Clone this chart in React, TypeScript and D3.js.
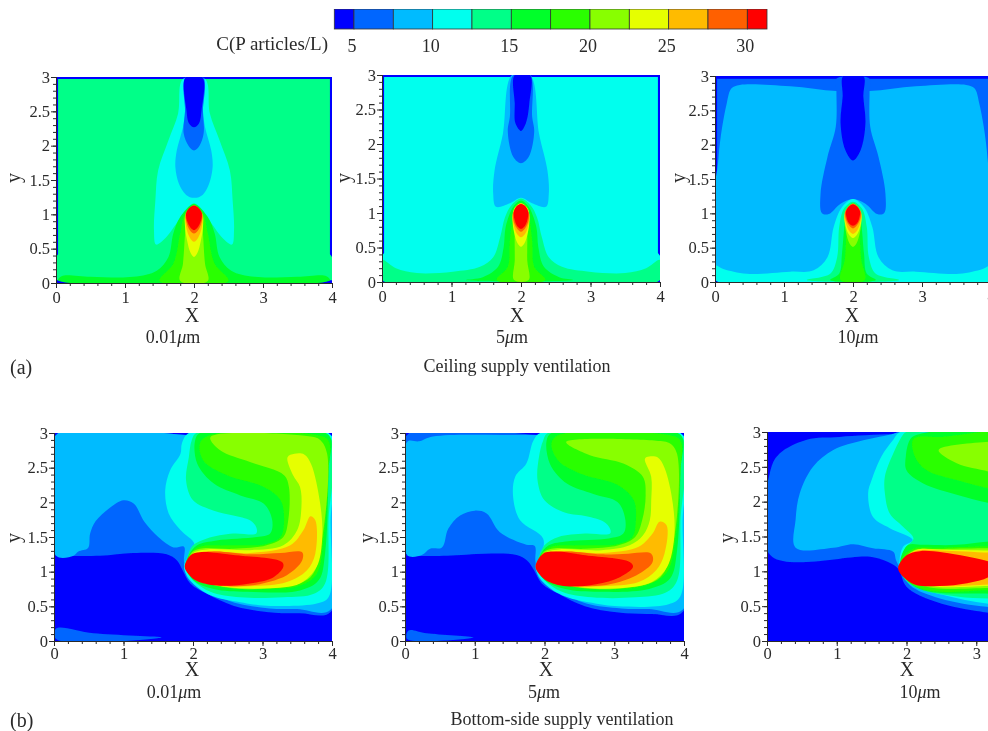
import React, { useEffect, useRef } from 'react';
import * as d3 from 'd3';

type Pt = [number, number];
type Layer = [number, Pt[], boolean?];

// legend
const legendEdges = [3.75, 5, 7.5, 10, 12.5, 15, 17.5, 20, 22.5, 25, 27.5, 30, 31.25];
const legendTicks = [5, 10, 15, 20, 25, 30];
const bandColors = ['#0000ff', '#0066ff', '#00bbff', '#00ffee', '#00ff88', '#00ff2a', '#2aff00', '#88ff00', '#e6ff00', '#ffbb00', '#ff6000', '#ff0000'];

const fullBox: Pt[] = [[0, 0], [4, 0], [4, 3], [0, 3]];

// (a) ceiling supply, 0.01um
const a1Field: Pt[] = [[.03, 2.97], [3.97, 2.97], [3.97, .42], [4, .38], [4, .04], [0, .04], [0, .38], [.03, .42]];
const a1Cyan: Pt[] = [[1.84, 2.97], [1.77, 2.47], [1.63, 2.08], [1.48, 1.64], [1.44, 1.2], [1.42, .77], [1.45, .56], [1.6, .67], [1.75, .87], [1.87, 1.01], [2, 1.16], [2.13, 1.01], [2.25, .87], [2.4, .67], [2.55, .56], [2.58, .77], [2.56, 1.2], [2.52, 1.64], [2.37, 2.08], [2.23, 2.47], [2.16, 2.97]];
const a1Sky: Pt[] = [[1.87, 2.97], [1.87, 2.5], [1.84, 2.27], [1.75, 1.93], [1.73, 1.69], [1.78, 1.45], [1.87, 1.3], [1.94, 1.25], [2.07, 1.25], [2.14, 1.3], [2.22, 1.45], [2.27, 1.69], [2.25, 1.93], [2.16, 2.27], [2.13, 2.5], [2.13, 2.97]];
const a1Mid: Pt[] = [[1.88, 3], [1.87, 2.5], [1.85, 2.18], [1.92, 2], [2, 1.93], [2.08, 2], [2.14, 2.18], [2.13, 2.5], [2.13, 3]];
const a1Core: Pt[] = [[1.88, 3], [1.89, 2.52], [1.93, 2.32], [2, 2.27], [2.07, 2.32], [2.11, 2.52], [2.12, 3]];
const a1P5: Pt[] = [[.03, .04], [.08, .1], [.5, .09], [1.12, .09], [1.46, .18], [1.63, .38], [1.7, .72], [1.8, .96], [2, 1.15], [2.2, .96], [2.3, .72], [2.37, .38], [2.54, .18], [2.88, .09], [3.5, .09], [3.92, .1], [3.97, .04]];
const a1P6: Pt[] = [[1.5, .03], [1.7, .28], [1.8, .72], [1.87, 1.01], [2, 1.11], [2.13, 1.01], [2.2, .72], [2.3, .28], [2.5, .03]];
const a1P7: Pt[] = [[1.8, .03], [1.84, .28], [1.87, .72], [1.89, 1.01], [2, 1.13], [2.11, 1.01], [2.13, .72], [2.16, .28], [2.2, .03]];
const a1P8: Pt[] = [[2, .38], [1.95, .44], [1.9, .62], [1.87, .82], [1.88, 1.01], [2, 1.12], [2.12, 1.01], [2.13, .82], [2.1, .62], [2.05, .44]];
const a1P9: Pt[] = [[2, .6], [1.94, .66], [1.89, .8], [1.88, .96], [2, 1.13], [2.12, .96], [2.11, .8], [2.06, .66]];
const a1P10: Pt[] = [[2, .72], [1.94, .77], [1.89, .89], [1.88, 1.01], [2, 1.13], [2.12, 1.01], [2.11, .89], [2.06, .77]];
const a1P11: Pt[] = [[2, .77], [1.94, .82], [1.89, .94], [1.89, 1.03], [1.94, 1.1], [2, 1.13], [2.06, 1.1], [2.11, 1.03], [2.11, .94], [2.06, .82]];

// (a) ceiling supply, 5um
const a2Field: Pt[] = [[.03, 2.97], [3.97, 2.97], [3.97, .42], [4, .38], [4, .03], [0, .03], [0, .38], [.03, .42]];
const a2Sky: Pt[] = [[1.87, 3], [1.74, 2.15], [1.62, 1.62], [1.6, 1.28], [1.64, 1.09], [1.84, 1.14], [2, 1.22], [2.16, 1.14], [2.36, 1.09], [2.4, 1.28], [2.38, 1.62], [2.26, 2.15], [2.13, 3]];
const a2Mid: Pt[] = [[1.89, 3], [1.84, 2.4], [1.81, 2.18], [1.89, 1.81], [2, 1.72], [2.11, 1.81], [2.19, 2.18], [2.16, 2.4], [2.13, 3]];
const a2Core: Pt[] = [[1.91, 3], [1.91, 2.59], [1.92, 2.3], [2, 2.19], [2.07, 2.3], [2.12, 2.59], [2.13, 3]];
const a2P4: Pt[] = [[0, .32], [.2, .2], [.5, .13], [1.02, .15], [1.41, .22], [1.6, .36], [1.7, .65], [1.77, .94], [1.86, 1.11], [2, 1.21], [2.14, 1.11], [2.23, .94], [2.3, .65], [2.4, .36], [2.59, .22], [2.98, .15], [3.5, .13], [3.8, .2], [4, .32], [4, .03], [0, .03]];
const a2P5: Pt[] = [[1.21, .03], [1.45, .07], [1.67, .22], [1.75, .5], [1.78, .8], [1.89, 1.09], [2, 1.18], [2.11, 1.09], [2.22, .8], [2.25, .5], [2.33, .22], [2.55, .07], [2.75, .03]];
const a2P6: Pt[] = [[1.65, .03], [1.81, .22], [1.84, .6], [1.89, .94], [2, 1.14], [2.11, .94], [2.16, .6], [2.19, .22], [2.35, .03]];
const a2P7: Pt[] = [[1.9, .03], [1.91, .31], [1.91, .7], [1.93, .99], [2, 1.13], [2.07, .99], [2.09, .7], [2.09, .31], [2.11, .03]];
const a2P8: Pt[] = [[2, .51], [1.95, .56], [1.9, .72], [1.88, .9], [1.9, 1.06], [2, 1.14], [2.1, 1.06], [2.12, .9], [2.1, .72], [2.05, .56]];
const a2P9: Pt[] = [[2, .65], [1.94, .7], [1.89, .84], [1.88, .98], [2, 1.14], [2.12, .98], [2.11, .84], [2.06, .7]];
const a2P10: Pt[] = [[2, .73], [1.94, .78], [1.89, .9], [1.89, 1.01], [2, 1.13], [2.11, 1.01], [2.11, .9], [2.06, .78]];
const a2P11: Pt[] = [[2, .77], [1.94, .82], [1.9, .94], [1.9, 1.03], [1.94, 1.1], [2, 1.13], [2.06, 1.1], [2.1, 1.03], [2.1, .94], [2.06, .82]];

// (a) ceiling supply, 10um
const a3Field: Pt[] = [[.03, 2.96], [3.97, 2.96], [3.97, .03], [.03, .03]];
const a3Sky: Pt[] = [[.05, .1], [.05, 1.8], [.17, 2.6], [.24, 2.82], [.36, 2.87], [1.09, 2.85], [1.76, 2.78], [2.24, 2.78], [2.91, 2.85], [3.64, 2.87], [3.76, 2.82], [3.83, 2.6], [3.95, 1.8], [3.95, .1]];
const a3Mid: Pt[] = [[1.76, 2.96], [1.76, 2.78], [1.75, 2.26], [1.63, 1.82], [1.53, 1.29], [1.55, 1], [1.65, .99], [1.82, 1.14], [2, 1.21], [2.18, 1.14], [2.35, .99], [2.45, 1], [2.47, 1.29], [2.37, 1.82], [2.25, 2.26], [2.24, 2.78], [2.24, 2.96]];
const a3Core: Pt[] = [[1.86, 3], [1.85, 2.7], [1.82, 2.31], [1.89, 1.92], [2, 1.77], [2.11, 1.92], [2.18, 2.31], [2.15, 2.7], [2.15, 3]];
const a3P3: Pt[] = [[0, .24], [.12, .19], [.46, .12], [1.09, .15], [1.43, .17], [1.63, .36], [1.72, .8], [1.84, 1.09], [2, 1.21], [2.16, 1.09], [2.28, .8], [2.37, .36], [2.57, .17], [2.91, .15], [3.54, .12], [3.88, .19], [4, .24], [4, .03], [0, .03]];
const a3P4: Pt[] = [[1.33, .03], [1.67, .12], [1.77, .36], [1.8, .8], [1.87, 1.07], [2, 1.17], [2.13, 1.07], [2.2, .8], [2.23, .36], [2.33, .12], [2.67, .03]];
const a3P5: Pt[] = [[1.67, .03], [1.8, .12], [1.84, .41], [1.88, .85], [1.92, 1.07], [2, 1.15], [2.08, 1.07], [2.12, .85], [2.16, .41], [2.2, .12], [2.33, .03]];
const a3P6: Pt[] = [[1.82, .03], [1.88, .32], [1.9, .7], [1.89, 1], [2, 1.14], [2.11, 1], [2.1, .7], [2.12, .32], [2.17, .03]];
const a3P7: Pt[] = [[2, .51], [1.95, .56], [1.9, .72], [1.88, .9], [1.91, 1.07], [2, 1.14], [2.09, 1.07], [2.12, .9], [2.1, .72], [2.05, .56]];
const a3P8: Pt[] = [[2, .64], [1.94, .69], [1.89, .83], [1.88, .98], [2, 1.14], [2.12, .98], [2.11, .83], [2.06, .69]];
const a3P9: Pt[] = [[2, .7], [1.94, .75], [1.89, .88], [1.88, 1.01], [2, 1.14], [2.12, 1.01], [2.11, .88], [2.06, .75]];
const a3P10: Pt[] = [[2, .78], [1.94, .83], [1.89, .94], [1.89, 1.03], [2, 1.14], [2.11, 1.03], [2.11, .94], [2.06, .83]];
const a3P11: Pt[] = [[2, .82], [1.94, .86], [1.9, .97], [1.9, 1.03], [1.94, 1.1], [2, 1.13], [2.06, 1.1], [2.1, 1.03], [2.1, .97], [2.06, .86]];

// (b) bottom-side supply, 0.01um
const b1Mid: Pt[] = [[0, 1.23], [.66, 1.23], [1.14, 1.27], [1.62, 1.25], [1.77, 1.16], [1.85, 1.02], [1.96, .83], [2.2, .68], [2.58, .51], [3.06, .42], [3.54, .4], [3.98, .42], [3.98, 2.97], [2, 2.97], [.03, 2.97], [.03, 1.23]];
const b1Sky: Pt[] = [[.03, 1.23], [.28, 1.23], [.35, 1.29], [.49, 1.34], [.52, 1.55], [.6, 1.73], [.8, 1.92], [1, 2.03], [1.15, 1.98], [1.3, 1.72], [1.5, 1.5], [1.72, 1.35], [1.87, 1.36], [1.87, 1.15], [1.93, .9], [2.2, .72], [2.6, .55], [3.1, .47], [3.5, .46], [3.98, .45], [3.98, 2.97], [2, 2.97], [.03, 2.97]];
const b1Sliver: Pt[] = [[.03, .18], [.57, .11], [1.55, .05], [.03, .03]];
const b1Cyan: Pt[] = [[1.94, 3], [1.84, 2.85], [1.82, 2.7], [1.67, 2.46], [1.6, 2.17], [1.65, 1.84], [1.82, 1.6], [2.02, 1.4], [1.96, 1.26], [1.87, 1.07], [1.98, .85], [2.25, .66], [2.68, .56], [3.06, .51], [3.78, .54], [3.95, .63], [3.98, 1.74], [3.98, 2.97], [2.5, 2.97]];
const b1P4: Pt[] = [[2.05, 3], [1.98, 2.89], [1.94, 2.65], [1.9, 2.32], [2, 2.03], [2.3, 1.88], [2.58, 1.81], [2.82, 1.74], [2.91, 1.64], [2.91, 1.55], [2.58, 1.55], [2.2, 1.48], [2, 1.38], [1.92, 1.21], [1.89, 1.07], [2, .88], [2.25, .71], [2.68, .63], [3.3, .63], [3.74, .68], [3.9, .83], [3.95, 1.74], [3.95, 2.97], [3, 2.97]];
const b1P5: Pt[] = [[2.1, 3], [2.03, 2.89], [2.06, 2.56], [2.3, 2.27], [2.68, 2.1], [3.02, 1.98], [3.14, 1.74], [3.11, 1.55], [2.92, 1.5], [2.34, 1.45], [2.06, 1.38], [1.94, 1.24], [1.9, 1.07], [2, .88], [2.3, .75], [2.78, .71], [3.54, .73], [3.81, .88], [3.9, 1.26], [3.95, 2.46], [3.95, 2.97], [3, 2.97]];
const b1P6: Pt[] = [[2.25, 2.97], [2.1, 2.85], [2.15, 2.6], [2.49, 2.39], [3.02, 2.22], [3.26, 2.03], [3.31, 1.74], [3.26, 1.5], [3.06, 1.4], [2.49, 1.38], [2.1, 1.36], [1.96, 1.26], [1.92, 1.07], [2.06, .9], [2.39, .78], [3.06, .75], [3.54, .8], [3.78, .97], [3.88, 1.5], [3.95, 2.46], [3.95, 2.89], [3.78, 2.97]];
const b1P7: Pt[] = [[2.25, 2.94], [2.39, 2.75], [2.82, 2.58], [3.31, 2.39], [3.38, 2.22], [3.37, 1.74], [3.3, 1.5], [3.06, 1.38], [2.58, 1.33], [2.1, 1.33], [1.97, 1.26], [1.93, 1.07], [2.1, .88], [2.58, .76], [3.2, .77], [3.69, .92], [3.86, 1.5], [3.93, 2.7], [3.83, 2.9], [3.69, 2.95]];
const b1P8: Pt[] = [[3.36, 2.65], [3.46, 2.7], [3.6, 2.69], [3.7, 2.55], [3.83, 1.98], [3.86, 1.5], [3.78, 1.07], [3.54, .83], [3.06, .76], [2.49, .78], [2.1, .88], [1.95, 1.04], [2, 1.26], [2.2, 1.32], [2.82, 1.31], [3.3, 1.38], [3.5, 1.6], [3.56, 1.93], [3.54, 2.22], [3.44, 2.39]];
const b1P9: Pt[] = [[3.69, 1.8], [3.76, 1.74], [3.76, 1.26], [3.64, 1.02], [3.35, .85], [2.82, .79], [2.3, .81], [2, .95], [1.94, 1.04], [2, 1.21], [2.15, 1.29], [2.82, 1.27], [3.4, 1.38], [3.59, 1.6]];
const b1P10: Pt[] = [[3.57, 1.28], [3.57, 1.16], [3.35, .95], [2.82, .8], [2.3, .82], [2.03, .92], [1.94, 1.04], [2.03, 1.24], [2.3, 1.29], [2.82, 1.25], [3.26, 1.27]];
const b1P11: Pt[] = [[1.88, 1.07], [1.97, 1.24], [2.1, 1.28], [2.58, 1.24], [3.28, 1.14], [3.3, 1.07], [3.16, .92], [2.82, .83], [2.34, .8], [2.05, .87], [1.94, .96]];

// (b) bottom-side supply, 5um
const b2Mid: Pt[] = [[0, 1.23], [.6, 1.23], [1.14, 1.26], [1.6, 1.24], [1.75, 1.16], [1.85, 1.02], [1.96, .83], [2.2, .68], [2.58, .5], [3.06, .41], [3.54, .39], [3.98, .42], [3.98, 2.97], [2, 2.97], [.03, 2.97], [.03, 1.23]];
const b2Sky: Pt[] = [[.03, 1.24], [.24, 1.24], [.36, 1.33], [.53, 1.35], [.62, 1.62], [.79, 1.81], [1, 1.88], [1.17, 1.84], [1.36, 1.57], [1.74, 1.39], [1.86, 1.37], [1.87, 1.15], [1.93, .9], [2.2, .72], [2.6, .54], [3.1, .47], [3.5, .46], [3.98, .45], [3.98, 2.97], [1.9, 2.97], [.4, 2.95], [.2, 2.88], [.03, 2.87]];
const b2Sliver: Pt[] = [[.05, .15], [.31, .11], [.98, .05], [.03, .03]];
const b2Cyan: Pt[] = [[1.94, 3], [1.84, 2.89], [1.74, 2.56], [1.58, 2.37], [1.55, 2.08], [1.65, 1.74], [1.98, 1.48], [1.96, 1.26], [1.87, 1.07], [1.98, .85], [2.25, .66], [2.68, .55], [3.06, .5], [3.78, .53], [3.95, .65], [3.98, 1.74], [3.98, 2.97], [2.5, 2.97]];
const b2P4: Pt[] = [[2.05, 3], [1.98, 2.89], [1.92, 2.65], [1.9, 2.32], [2, 2.03], [2.3, 1.85], [2.6, 1.8], [2.85, 1.72], [2.94, 1.62], [2.94, 1.55], [2.58, 1.55], [2.2, 1.5], [2, 1.38], [1.92, 1.21], [1.89, 1.07], [2, .88], [2.25, .71], [2.68, .63], [3.3, .63], [3.74, .7], [3.9, .87], [3.95, 1.74], [3.95, 2.97], [3, 2.97]];
const b2P5: Pt[] = [[2.1, 3], [2.03, 2.89], [2.08, 2.55], [2.32, 2.27], [2.7, 2.12], [3.05, 2], [3.16, 1.74], [3.13, 1.55], [2.92, 1.48], [2.34, 1.44], [2.06, 1.38], [1.94, 1.24], [1.9, 1.07], [2, .88], [2.3, .75], [2.78, .71], [3.5, .75], [3.8, .9], [3.9, 1.3], [3.95, 2.46], [3.95, 2.97], [3, 2.97]];
const b2P6: Pt[] = [[2.2, 2.97], [2.1, 2.85], [2.2, 2.6], [2.55, 2.4], [3.05, 2.25], [3.28, 2.03], [3.31, 1.74], [3.26, 1.5], [3.06, 1.4], [2.49, 1.38], [2.1, 1.36], [1.96, 1.26], [1.92, 1.07], [2.06, .9], [2.39, .78], [3.06, .75], [3.5, .82], [3.76, 1], [3.88, 1.5], [3.95, 2.46], [3.95, 2.89], [3.78, 2.97]];
const b2P7: Pt[] = [[2.31, 2.87], [2.65, 2.68], [3.13, 2.56], [3.41, 2.37], [3.45, 2.1], [3.4, 1.74], [3.3, 1.5], [3.06, 1.38], [2.58, 1.33], [2.1, 1.33], [1.97, 1.26], [1.93, 1.07], [2.1, .88], [2.58, .76], [3.2, .77], [3.66, .92], [3.86, 1.5], [3.9, 2.7], [3.8, 2.85], [3.6, 2.89]];
const b2P8: Pt[] = [[3.44, 2.63], [3.5, 2.66], [3.62, 2.65], [3.72, 2.5], [3.84, 1.98], [3.86, 1.5], [3.76, 1.07], [3.54, .85], [3.06, .76], [2.49, .78], [2.1, .88], [1.95, 1.04], [2, 1.26], [2.2, 1.32], [2.82, 1.31], [3.22, 1.38], [3.41, 1.52], [3.51, 1.74], [3.53, 2.03], [3.53, 2.37]];
const b2P9: Pt[] = [[3.65, 1.72], [3.75, 1.67], [3.72, 1.26], [3.6, 1.02], [3.35, .85], [2.82, .79], [2.3, .81], [2, .95], [1.94, 1.04], [2, 1.21], [2.15, 1.29], [2.82, 1.27], [3.35, 1.36], [3.55, 1.55]];
const b2P10: Pt[] = [[3.53, 1.26], [3.55, 1.14], [3.32, .95], [2.82, .8], [2.3, .82], [2.03, .92], [1.94, 1.04], [2.03, 1.24], [2.3, 1.29], [2.82, 1.25], [3.2, 1.26]];
const b2P11: Pt[] = [[1.87, 1.07], [1.98, 1.26], [2.17, 1.29], [2.55, 1.24], [3.22, 1.14], [3.27, 1.07], [3.08, .92], [2.74, .82], [2.31, .79], [2.03, .87], [1.93, .96]];

// (b) bottom-side supply, 10um (cut off by the page at the right)
const b3Mid: Pt[] = [[.05, 1.23], [.05, 2.45], [.18, 2.69], [.57, 2.89], [1.04, 2.93], [1.86, 2.97], [3.6, 2.97], [3.6, .38], [3.15, .41], [2.43, .56], [2, .78], [1.88, 1.04], [1.72, 1.14], [1.48, 1.21]];
const b3Sky: Pt[] = [[.41, 1.34], [.41, 1.74], [.47, 2.12], [.66, 2.5], [.95, 2.74], [1.38, 2.88], [1.76, 2.96], [1.91, 3], [3.6, 2.97], [3.6, .47], [3.15, .49], [2.48, .61], [2.05, .8], [1.91, 1.04], [1.85, 1.16], [1.81, 1.28], [1.52, 1.33], [1.24, 1.39], [.95, 1.34]];
const b3Cyan: Pt[] = [[1.91, 3], [1.81, 2.89], [1.64, 2.65], [1.5, 2.31], [1.45, 2.12], [1.52, 1.78], [1.76, 1.62], [2.09, 1.45], [1.95, 1.35], [1.9, 1.16], [1.91, 1.04], [2.05, .83], [2.53, .66], [3.15, .54], [3.6, .52], [3.6, 2.97], [2.5, 2.97]];
const b3P4: Pt[] = [[2, 3], [1.95, 2.96], [1.81, 2.69], [1.69, 2.36], [1.69, 2.12], [1.76, 1.83], [1.95, 1.64], [2.1, 1.47], [1.98, 1.33], [1.91, 1.11], [1.95, .92], [2.15, .76], [2.72, .64], [3.18, .61], [3.6, .6], [3.6, 2.97], [2.5, 2.97]];
const b3Upper5: Pt[] = [[2.15, 2.96], [2.05, 2.89], [1.99, 2.65], [2, 2.45], [2.24, 2.26], [2.72, 2.1], [3.18, 1.98], [3.6, 1.9], [3.6, 2.96]];
const b3Upper6: Pt[] = [[2.1, 2.9], [2.12, 2.65], [2.29, 2.45], [2.72, 2.31], [3.18, 2.19], [3.6, 2.1], [3.6, 2.94], [2.5, 2.93]];
const b3Upper7: Pt[] = [[2.46, 2.74], [3.18, 2.86], [3.6, 2.86], [3.6, 2.3], [3.18, 2.43], [2.72, 2.55]];
const b3Lower5: Pt[] = [[3.6, 1.42], [3.18, 1.43], [2.72, 1.38], [2.24, 1.38], [2.03, 1.38], [1.93, 1.23], [1.91, 1.04], [2, .88], [2.24, .73], [3.18, .68], [3.6, .68]];
const b3Lower6: Pt[] = [[3.6, 1.36], [3.18, 1.36], [2.48, 1.34], [2.12, 1.33], [1.95, 1.21], [1.92, 1.04], [2.03, .85], [2.34, .72], [3.18, .73], [3.6, .73]];
const b3Lower7: Pt[] = [[3.6, 1.33], [3.18, 1.33], [2.53, 1.32], [2.1, 1.3], [1.98, 1.19], [1.93, 1.04], [2.05, .86], [2.39, .76], [3.18, .76], [3.6, .76]];
const b3Lower8: Pt[] = [[3.6, 1.3], [3.18, 1.3], [2.5, 1.31], [2.15, 1.31], [2, 1.2], [1.93, 1.04], [2.07, .87], [2.43, .78], [3.18, .79], [3.6, .79]];
const b3Lower9: Pt[] = [[3.6, 1.27], [3.18, 1.27], [2.5, 1.3], [2.15, 1.3], [2, 1.22], [1.92, 1.04], [2.05, .85], [2.45, .79], [3.18, .81], [3.6, .85]];
const b3Red: Pt[] = [[1.88, 1.04], [2, 1.23], [2.19, 1.29], [2.53, 1.27], [3.18, 1.14], [3.35, 1.07], [3.18, .92], [2.87, .83], [2.48, .79], [2.15, .8], [2, .88]];

const a1Layers: Layer[] = [[0, fullBox, true], [4, a1Field, true], [3, a1Cyan], [2, a1Sky], [1, a1Mid], [0, a1Core], [5, a1P5], [6, a1P6], [7, a1P7], [8, a1P8], [9, a1P9], [10, a1P10], [11, a1P11]];
const a2Layers: Layer[] = [[0, fullBox, true], [3, a2Field, true], [2, a2Sky], [1, a2Mid], [0, a2Core], [4, a2P4], [5, a2P5], [6, a2P6], [7, a2P7], [8, a2P8], [9, a2P9], [10, a2P10], [11, a2P11]];
const a3Layers: Layer[] = [[0, fullBox, true], [1, a3Field, true], [2, a3Sky], [1, a3Mid], [0, a3Core], [3, a3P3], [4, a3P4], [5, a3P5], [6, a3P6], [7, a3P7], [8, a3P8], [9, a3P9], [10, a3P10], [11, a3P11]];
const b1Layers: Layer[] = [[0, fullBox, true], [1, b1Sliver], [1, b1Mid], [2, b1Sky], [3, b1Cyan], [4, b1P4], [5, b1P5], [6, b1P6], [7, b1P7], [8, b1P8], [9, b1P9], [10, b1P10], [11, b1P11]];
const b2Layers: Layer[] = [[0, fullBox, true], [1, b2Sliver], [1, b2Mid], [2, b2Sky], [3, b2Cyan], [4, b2P4], [5, b2P5], [6, b2P6], [7, b2P7], [8, b2P8], [9, b2P9], [10, b2P10], [11, b2P11]];
const b3Layers: Layer[] = [[0, fullBox, true], [1, b3Mid], [2, b3Sky], [3, b3Cyan], [4, b3P4], [5, b3Upper5], [6, b3Upper6], [7, b3Upper7], [5, b3Lower5], [6, b3Lower6], [7, b3Lower7], [8, b3Lower8], [9, b3Lower9], [11, b3Red]];

const xTicks = [0, 1, 2, 3, 4];
const xTicksCut = [0, 1, 2, 3];
const yTicks = [0, 0.5, 1, 1.5, 2, 2.5, 3];
const xMinor = d3.range(0, 4.01, 0.2);
const yMinor = d3.range(0, 3.01, 0.1);

const panels = [
  { id: 'a1', layers: a1Layers, size: '0.01', x: [56, 332], y: [283, 77], ticks: xTicks, labelX: 192, labelY: 15, sizeX: 173, rowY: 0 },
  { id: 'a2', layers: a2Layers, size: '5', x: [382, 660], y: [282, 75], ticks: xTicks, labelX: 517, labelY: 345, sizeX: 512, rowY: 0 },
  { id: 'a3', layers: a3Layers, size: '10', x: [715, 991], y: [282, 76], ticks: xTicks, labelX: 852, labelY: 680, sizeX: 858, rowY: 0 },
  { id: 'b1', layers: b1Layers, size: '0.01', x: [54, 332], y: [641, 433], ticks: xTicks, labelX: 192, labelY: 15, sizeX: 174, rowY: 1 },
  { id: 'b2', layers: b2Layers, size: '5', x: [405, 684], y: [641, 433], ticks: xTicks, labelX: 546, labelY: 368, sizeX: 544, rowY: 1 },
  { id: 'b3', layers: b3Layers, size: '10', x: [767, 1046], y: [641, 432], ticks: xTicksCut, labelX: 907, labelY: 728, sizeX: 920, rowY: 1 },
];

const serif = '"Liberation Serif", serif';
const ink = '#2b2b2b';

const Panel = ({ p }: { p: typeof panels[number] }) => {
  const xRef = useRef<SVGGElement>(null);
  const yRef = useRef<SVGGElement>(null);
  const x = d3.scaleLinear().domain([0, 4]).range(p.x);
  const y = d3.scaleLinear().domain([0, 3]).range(p.y);
  const smooth = d3.line<Pt>().x(d => x(d[0])).y(d => y(d[1])).curve(d3.curveCatmullRomClosed.alpha(0.5));
  const sharp = d3.line<Pt>().x(d => x(d[0])).y(d => y(d[1])).curve(d3.curveLinearClosed);
  const row = p.rowY === 0;

  useEffect(() => {
    const gx = d3.select(xRef.current!);
    const gy = d3.select(yRef.current!);
    gx.selectAll('*').remove();
    gy.selectAll('*').remove();
    // small ticks first, then the big ones on top
    gx.append('g').call(d3.axisBottom(x).tickValues(xMinor).tickSize(3).tickFormat(() => ''));
    gx.append('g').call(d3.axisBottom(x).tickValues(p.ticks).tickSize(5).tickPadding(row ? 3.5 : 1).tickFormat(d => String(d)));
    gy.append('g').call(d3.axisLeft(y).tickValues(yMinor).tickSize(3).tickFormat(() => ''));
    gy.append('g').call(d3.axisLeft(y).tickValues(yTicks).tickSize(5).tickPadding(1).tickFormat(d => String(d)));
    [gx, gy].forEach(g => {
      g.selectAll('.domain').attr('stroke', ink);
      g.selectAll('line').attr('stroke', ink);
      g.selectAll('text').attr('font-family', serif).attr('font-size', 16.5).attr('fill', ink);
    });
  }, []);

  return (
    <g>
      <clipPath id={'clip-' + p.id}>
        <rect x={p.x[0]} y={p.y[1]} width={p.x[1] - p.x[0]} height={p.y[0] - p.y[1]} />
      </clipPath>
      <g clipPath={`url(#clip-${p.id})`}>
        {p.layers.map((l, i) => (
          <path key={i} d={(l[2] ? sharp : smooth)(l[1]) as string} fill={bandColors[l[0]]} />
        ))}
      </g>
      <g ref={xRef} transform={`translate(0,${p.y[0]})`} />
      <g ref={yRef} transform={`translate(${p.x[0]},0)`} />
      <text x={p.labelX} y={row ? 322 : 676} textAnchor="middle" fontSize={20} fontFamily={serif} fill={ink}>X</text>
      <text transform={`translate(${p.labelY + 5},${row ? 178 : 538}) rotate(-90)`} textAnchor="middle" fontSize={20} fontFamily={serif} fill={ink}>y</text>
      <text x={p.sizeX} y={row ? 343 : 698} textAnchor="middle" fontSize={18} fontFamily={serif} fill={ink}>
        {p.size}<tspan fontStyle="italic">μ</tspan>m
      </text>
    </g>
  );
};

const App = () => {
  const legend = d3.scaleLinear().domain([legendEdges[0], legendEdges[legendEdges.length - 1]]).range([334.3, 767]);
  return (
    <svg width={988} height={731} style={{ position: 'absolute', left: 0, top: 0 }}>
      <defs>
        <filter id="soft" x="0" y="0" width="100%" height="100%">
          <feGaussianBlur stdDeviation="0.55" />
        </filter>
      </defs>
      <rect width={988} height={731} fill="#fff" />
      <g filter="url(#soft)">
        {legendEdges.slice(0, -1).map((e, i) => (
          <rect key={e} x={legend(e)} y={9} width={legend(legendEdges[i + 1]) - legend(e)} height={20}
            fill={bandColors[i]} stroke="#333" strokeWidth={0.8} />
        ))}
        {legendTicks.map(t => (
          <text key={t} x={legend(t) - 2} y={52} textAnchor="middle" fontSize={18} fontFamily={serif} fill={ink}>{t}</text>
        ))}
        <text x={328} y={50} textAnchor="end" fontSize={19} fontFamily={serif} fill={ink}>C(P articles/L)</text>
        {panels.map(p => <Panel key={p.id} p={p} />)}
        <text x={10} y={374} fontSize={20} fontFamily={serif} fill={ink}>(a)</text>
        <text x={517} y={372} textAnchor="middle" fontSize={18} fontFamily={serif} fill={ink}>Ceiling supply ventilation</text>
        <text x={10} y={727} fontSize={20} fontFamily={serif} fill={ink}>(b)</text>
        <text x={562} y={725} textAnchor="middle" fontSize={18} fontFamily={serif} fill={ink}>Bottom-side supply ventilation</text>
      </g>
    </svg>
  );
};

export default App;
